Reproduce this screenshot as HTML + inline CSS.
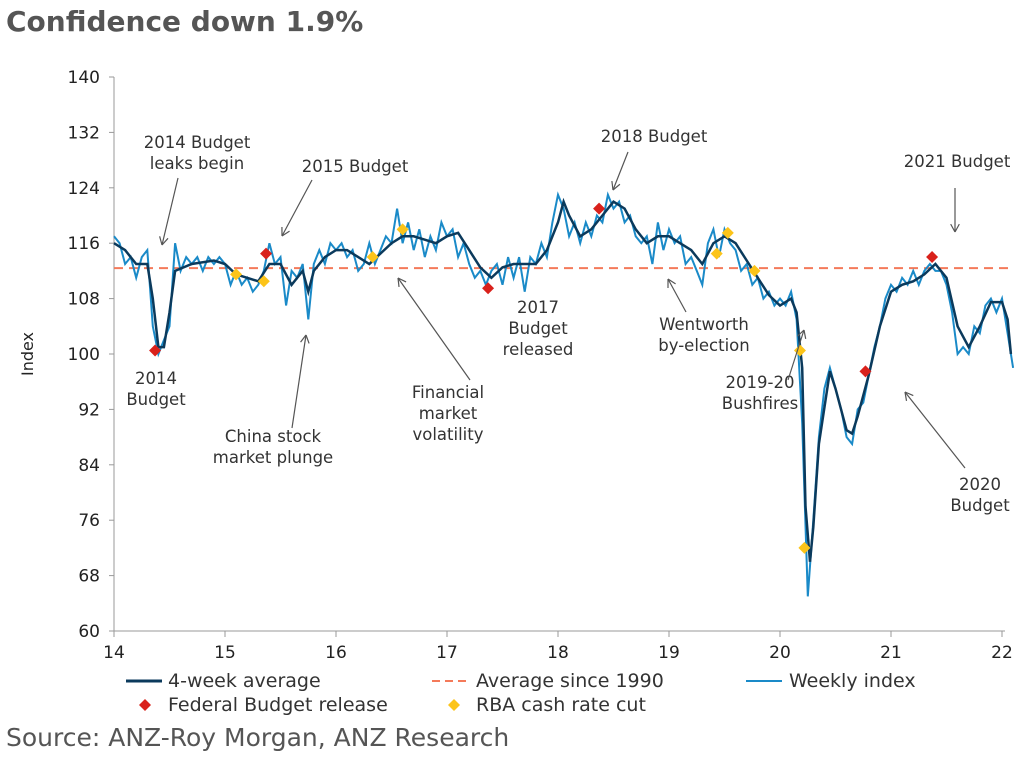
<!DOCTYPE html>
<html><head><meta charset="utf-8"><style>
body{margin:0;background:#fff;width:1036px;height:760px;overflow:hidden;font-family:"Liberation Sans",sans-serif}
svg text{font-family:"DejaVu Sans","Liberation Sans",sans-serif}
</style></head><body>
<svg id="c" width="1036" height="760">
<text x="6" y="31" font-size="28" font-weight="bold" fill="#555">Confidence down 1.9%</text>
<text x="6" y="746" font-size="25" fill="#555">Source: ANZ-Roy Morgan, ANZ Research</text>
<g id="axes"></g><g id="marks"></g><g id="notes" font-size="16.5" fill="#333"></g><g id="legend" font-size="19" fill="#333"></g>
</svg>
<script>
const yTicks=[60,68,76,84,92,100,108,116,124,132,140];
const xTicks=[14,15,16,17,18,19,20,21,22];
const avgSince1990=112.4;
const avgX=[14.0,14.1,14.2,14.3,14.35,14.4,14.45,14.5,14.55,14.7,14.9,15.0,15.1,15.2,15.3,15.4,15.5,15.6,15.7,15.75,15.8,15.9,16.0,16.1,16.2,16.3,16.4,16.5,16.6,16.7,16.8,16.9,17.0,17.1,17.2,17.3,17.4,17.5,17.6,17.7,17.8,17.9,18.0,18.05,18.1,18.2,18.3,18.4,18.5,18.6,18.7,18.8,18.9,19.0,19.1,19.2,19.3,19.4,19.5,19.6,19.7,19.8,19.9,20.0,20.1,20.15,20.2,20.23,20.27,20.3,20.35,20.45,20.5,20.6,20.65,20.7,20.8,20.9,21.0,21.1,21.2,21.3,21.4,21.5,21.6,21.7,21.8,21.9,22.0,22.05,22.08];
const avgV=[116,115,113,113,108,101,101,106,112,113,113.5,113,111.5,111,110.5,113,113,110,112,109,112,114,115,115,114,113,114.5,116,117,117,116.5,116,117,117.5,115,112.5,111,112.5,113,113,113,115,119,122,120,117,118,120,122,121,118,116,117,117,116,115,113,116,117,116,113.5,111,108.5,107,108,106,98,78,70,75,87,97.5,95,89,88.5,91,97,104,109,110,110.5,111.5,113,111,104,101,104,107.5,107.5,105,100];
const weeklyStart=14.0, weeklyStep=0.05;
const weeklyV=[117,116,113,114,111,114,115,104,100,102,104,116,112,114,113,114,112,114,113,114,113,110,112,110,111,109,110,112,116,113,114,107,112,111,113,105,113,115,113,116,115,116,114,115,112,113,116,113,115,117,116,121,116,119,115,118,114,117,115,119,117,118,114,116,113,111,112,110,112,113,110,114,111,114,109,114,113,116,114,119,123,121,117,119,116,119,117,120,119,123,121,122,119,120,117,116,117,113,119,115,118,116,117,113,114,112,110,116,118,114,118,116,115,112,113,110,111,108,109,107,108,107,109,105,90,65,76,88,95,98,95,92,88,87,92,93,97,101,104,108,110,109,111,110,112,110,112,113,112,112,110,106,100,101,100,104,103,107,108,106,108,103,98];
const budgetX=[14.37,15.37,17.37,18.37,20.77,21.37];
const budgetV=[100.5,114.5,109.5,121,97.5,114];
const rbaX=[15.1,15.35,16.33,16.6,19.43,19.53,19.77,20.18,20.22];
const rbaV=[111.5,110.5,114,118,114.5,117.5,112,100.5,72];

const NS="http://www.w3.org/2000/svg";
const X=v=>114+(v-14)*111, Y=v=>77+(140-v)*554/80;
function mk(p,t,a){const e=document.createElementNS(NS,t);for(const k in a)e.setAttribute(k,a[k]);p.appendChild(e);return e;}
const ax=document.getElementById('axes'),mg=document.getElementById('marks'),ng=document.getElementById('notes'),lg=document.getElementById('legend');
let l=mk(ax,'line',{x1:114,y1:77,x2:114,y2:631,stroke:'#999'});

l=mk(ax,'line',{x1:114,y1:631,x2:1005,y2:631,stroke:'#999'});

yTicks.forEach(t=>{mk(ax,'line',{x1:109,y1:Y(t),x2:114,y2:Y(t),stroke:'#999'});
 const e=mk(ax,'text',{x:100,y:Y(t)+6,'text-anchor':'end','font-size':17,fill:'#222'});e.textContent=t;
 });
xTicks.forEach(t=>{mk(ax,'line',{x1:X(t),y1:631,x2:X(t),y2:637,stroke:'#999'});
 const e=mk(ax,'text',{x:X(t),y:658,'text-anchor':'middle','font-size':17,fill:'#222'});e.textContent=t;
 });
let yt=mk(ax,'text',{x:0,y:0,transform:'translate(33,354) rotate(-90)','text-anchor':'middle','font-size':16,fill:'#222'});yt.textContent='Index';

let al=mk(mg,'line',{x1:114,x2:1013,y1:Y(avgSince1990),y2:Y(avgSince1990),stroke:'#f47a5a','stroke-width':2,'stroke-dasharray':'9,6'});

let wp=mk(mg,'path',{d:weeklyV.map((v,i)=>(i?'L':'M')+X(weeklyStart+i*weeklyStep).toFixed(1)+','+Y(v).toFixed(1)).join(''),fill:'none',stroke:'#1a8ac8','stroke-width':2});

let ap=mk(mg,'path',{d:avgV.map((v,i)=>(i?'L':'M')+X(avgX[i]).toFixed(1)+','+Y(v).toFixed(1)).join(''),fill:'none',stroke:'#0b3a5c','stroke-width':2.5});

function dia(g,x,y,c){return mk(g,'path',{d:`M${x},${y-6}L${x+6},${y}L${x},${y+6}L${x-6},${y}Z`,fill:c});}
budgetX.forEach((x,i)=>{const d=dia(mg,X(x),Y(budgetV[i]),'#d9211b');});
rbaX.forEach((x,i)=>{const d=dia(mg,X(x),Y(rbaV[i]),'#fcc419');});
const notes=[
 [197,148,['2014 Budget','leaks begin']],[355,172,['2015 Budget']],[654,142,['2018 Budget']],[957,167,['2021 Budget']],
 [156,384,['2014','Budget']],[273,442,['China stock','market plunge']],[448,398,['Financial','market','volatility']],
 [538,313,['2017','Budget','released']],[704,330,['Wentworth','by-election']],[760,388,['2019-20','Bushfires']],[980,490,['2020','Budget']]];
notes.forEach(n=>{const t=mk(ng,'text',{'text-anchor':'middle'});
 n[2].forEach((s,i)=>{const ts=mk(t,'tspan',{x:n[0],y:n[1]+i*21});ts.textContent=s;});});
const arrows=[[178,178,162,245],[312,180,282,236],[628,152,613,190],[955,188,955,232],[292,428,306,335],[470,380,398,278],[686,312,668,279],[788,380,804,330],[965,468,905,392]];
arrows.forEach(a=>{const g=mk(ng,'g',{stroke:'#555','stroke-width':1.2,fill:'none'});
 mk(g,'line',{x1:a[0],y1:a[1],x2:a[2],y2:a[3]});const an=Math.atan2(a[3]-a[1],a[2]-a[0]);
 [0.5,-0.5].forEach(d=>mk(g,'line',{x1:a[2],y1:a[3],x2:a[2]-9*Math.cos(an+d),y2:a[3]-9*Math.sin(an+d)}));});
function lgT(x,y,s){const t=mk(lg,'text',{x:x,y:y});t.textContent=s;}
let e=mk(lg,'line',{x1:126,y1:681,x2:162,y2:681,stroke:'#0b3a5c','stroke-width':3});lgT(168,687,'4-week average');
e=mk(lg,'line',{x1:432,y1:681,x2:468,y2:681,stroke:'#f47a5a','stroke-width':2,'stroke-dasharray':'8,5'});lgT(476,687,'Average since 1990');
e=mk(lg,'line',{x1:746,y1:681,x2:782,y2:681,stroke:'#1a8ac8','stroke-width':2});lgT(789,687,'Weekly index');
e=dia(lg,145,705,'#d9211b');lgT(168,711,'Federal Budget release');
e=dia(lg,454,705,'#fcc419');lgT(476,711,'RBA cash rate cut');
</script>
</body></html>
